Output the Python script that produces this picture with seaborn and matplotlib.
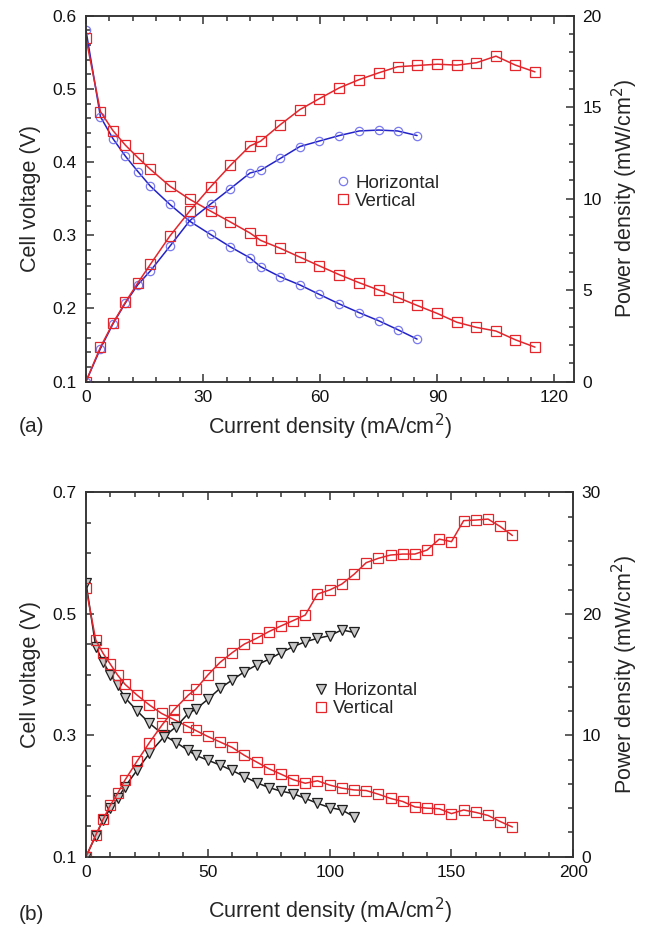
import matplotlib
matplotlib.use("Agg")
import matplotlib.pyplot as plt
from matplotlib.lines import Line2D
from matplotlib.ticker import MultipleLocator
import seaborn as sns

# panel (a) - horizontal
cur_a_h = [0, 3.7, 6.9, 10.1, 13.3, 16.5, 21.5, 26.6, 31.9, 37, 42, 44.7, 49.8, 54.8, 59.8, 64.9, 70, 75, 79.8, 84.8]
volt_a_h = [0.580, 0.462, 0.432, 0.408, 0.387, 0.367, 0.342, 0.319, 0.301, 0.284, 0.269, 0.257, 0.243, 0.232,
            0.219, 0.206, 0.194, 0.183, 0.171, 0.158]
pow_a_h = [0, 1.8, 3.15, 4.3, 5.3, 6.05, 7.4, 8.8, 9.7, 10.55, 11.4, 11.55, 12.2, 12.85, 13.15, 13.45, 13.7,
           13.75, 13.7, 13.45]

# panel (a) - vertical
cur_a_v = [0, 3.7, 6.9, 10.1, 13.3, 16.5, 21.5, 26.6, 31.9, 37, 42, 44.7, 49.8, 54.8, 59.8, 64.9, 70, 75, 79.8,
           84.8, 90, 95, 100, 105, 110, 115]
volt_a_v = [0.569, 0.469, 0.443, 0.423, 0.406, 0.390, 0.367, 0.349, 0.333, 0.318, 0.303, 0.293, 0.282, 0.270,
            0.258, 0.246, 0.235, 0.225, 0.215, 0.204, 0.193, 0.181, 0.174, 0.169, 0.157, 0.147]
pow_a_v = [0, 1.88, 3.19, 4.34, 5.40, 6.41, 7.96, 9.33, 10.64, 11.82, 12.88, 13.14, 14.05, 14.87, 15.47, 16.06,
           16.51, 16.88, 17.21, 17.28, 17.35, 17.30, 17.43, 17.79, 17.30, 16.93]

# panel (b) - horizontal
cur_b_h = [0, 4, 7, 10, 13, 16, 21, 26, 32, 37, 42, 45, 50, 55, 60, 65, 70, 75, 80, 85, 90, 95, 100, 105, 110]
volt_b_h = [0.551, 0.446, 0.421, 0.400, 0.382, 0.362, 0.340, 0.320, 0.300, 0.288, 0.275, 0.267, 0.259, 0.251,
            0.242, 0.232, 0.222, 0.214, 0.208, 0.204, 0.196, 0.188, 0.181, 0.177, 0.166]
pow_b_h = [0, 1.73, 3.02, 3.98, 4.80, 5.76, 7.14, 8.51, 9.88, 10.71, 11.80, 12.13, 12.96, 13.86, 14.55, 15.23,
           15.78, 16.25, 16.80, 17.29, 17.70, 17.98, 18.20, 18.67, 18.47]

# panel (b) - vertical
cur_b_v = [0, 4, 7, 10, 13, 16, 21, 26, 31, 36, 42, 45, 50, 55, 60, 65, 70, 75, 80, 85, 90, 95, 100, 105, 110,
           115, 120, 125, 130, 135, 140, 145, 150, 155, 160, 165, 170, 175]
volt_b_v = [0.542, 0.457, 0.435, 0.417, 0.399, 0.384, 0.366, 0.350, 0.336, 0.326, 0.314, 0.308, 0.298, 0.289,
            0.280, 0.267, 0.256, 0.245, 0.236, 0.227, 0.221, 0.225, 0.218, 0.213, 0.210, 0.209, 0.203, 0.196,
            0.191, 0.182, 0.180, 0.179, 0.171, 0.177, 0.173, 0.168, 0.158, 0.149]
pow_b_v = [0, 1.78, 3.07, 4.25, 5.22, 6.31, 7.88, 9.39, 10.79, 12.08, 13.31, 13.78, 14.96, 16.00, 16.80, 17.51,
           17.98, 18.53, 19.00, 19.44, 19.90, 21.63, 21.96, 22.45, 23.25, 24.21, 24.57, 24.84, 24.92, 24.92,
           25.25, 26.15, 25.94, 27.67, 27.72, 27.80, 27.19, 26.45]

series_labels = ["Horizontal", "Vertical"]

RED = "#e3262c"
BLUE_LINE = "#2323c8"
BLUE_MARK = "#7a7aee"
BLACK = "#1e1e1e"
GRAY_FILL = "#c8c8c8"

sns.set_style("ticks")
plt.rcParams["font.family"] = ["Liberation Sans", "DejaVu Sans"]
plt.rcParams["axes.edgecolor"] = "#333333"
plt.rcParams["axes.linewidth"] = 1.1
plt.rcParams["xtick.color"] = "#333333"
plt.rcParams["ytick.color"] = "#333333"
plt.rcParams["xtick.labelcolor"] = "#111111"
plt.rcParams["ytick.labelcolor"] = "#111111"

fig = plt.figure(figsize=(6.5, 9.26), dpi=100)
ax_a = fig.add_axes([0.1323, 0.588, 0.7508, 0.395])
ax_b = fig.add_axes([0.1323, 0.0748, 0.7497, 0.3935])


def curve(ax, x, y, line_color, marker, edge, face, size):
    sns.lineplot(x=x, y=y, ax=ax, color=line_color, linewidth=1.1, sort=False, estimator=None,
                 marker=marker, markersize=size, markerfacecolor=face, markeredgecolor=edge,
                 markeredgewidth=0.9, legend=False)


def style_axes(ax, tw, xlim, xmaj, xmin, ylim, ymaj, ymin, yoff, rlim, rmaj, rmin, xpad):
    ax.set_xlim(*xlim)
    ax.set_ylim(*ylim)
    tw.set_ylim(*rlim)
    ax.xaxis.set_major_locator(MultipleLocator(xmaj))
    ax.xaxis.set_minor_locator(MultipleLocator(xmin))
    ax.yaxis.set_major_locator(MultipleLocator(ymaj, offset=yoff))
    ax.yaxis.set_minor_locator(MultipleLocator(ymin))
    tw.yaxis.set_major_locator(MultipleLocator(rmaj))
    tw.yaxis.set_minor_locator(MultipleLocator(rmin))
    ax.tick_params(which="both", direction="in", top=True, right=False, labelsize=12.5)
    ax.tick_params(which="major", length=6, width=1.1)
    ax.tick_params(which="minor", length=3.5, width=1.1)
    ax.tick_params(axis="x", pad=6)
    ax.tick_params(axis="y", pad=7)
    tw.tick_params(which="both", direction="in", right=True, labelsize=12.5, pad=6)
    tw.tick_params(which="major", length=6, width=1.1)
    tw.tick_params(which="minor", length=3.5, width=1.1)
    ax.set_xlabel("Current density (mA/cm$^2$)", fontsize=15.5, labelpad=xpad)
    ax.set_ylabel("Cell voltage (V)", fontsize=15.5, labelpad=8)
    tw.set_ylabel("Power density (mW/cm$^2$)", fontsize=15.5, labelpad=6)
    for sp in tw.spines.values():
        sp.set_linewidth(1.1)
        sp.set_color("#333333")


def add_legend(ax, handles, anchor):
    ax.legend(handles=handles, labels=series_labels, loc="center left", bbox_to_anchor=anchor,
              frameon=False, fontsize=13.5, handlelength=0.6, handletextpad=0.35, borderpad=0,
              labelspacing=0.05, borderaxespad=0)


# panel (a)
tw_a = ax_a.twinx()
curve(ax_a, cur_a_h, volt_a_h, BLUE_LINE, "o", BLUE_MARK, "none", 6)
curve(tw_a, cur_a_h, pow_a_h, BLUE_LINE, "o", BLUE_MARK, "none", 6)
curve(ax_a, cur_a_v, volt_a_v, RED, "s", RED, "none", 6.5)
curve(tw_a, cur_a_v, pow_a_v, RED, "s", RED, "none", 6.5)
style_axes(ax_a, tw_a, (0, 125), 30, 6, (0.1, 0.6), 0.1, 0.02, 0.0, (0, 20), 5, 1, 5)
hand_a = [Line2D([], [], linestyle="none", marker="o", markersize=6, markerfacecolor="none",
                 markeredgecolor=BLUE_MARK, markeredgewidth=0.9),
          Line2D([], [], linestyle="none", marker="s", markersize=6.5, markerfacecolor="none",
                 markeredgecolor=RED, markeredgewidth=0.9)]
add_legend(tw_a, hand_a, (0.515, 0.518))

# panel (b)
tw_b = ax_b.twinx()
curve(ax_b, cur_b_h, volt_b_h, BLACK, "v", BLACK, GRAY_FILL, 6.5)
curve(tw_b, cur_b_h, pow_b_h, BLACK, "v", BLACK, GRAY_FILL, 6.5)
curve(ax_b, cur_b_v, volt_b_v, RED, "s", RED, "none", 6.5)
curve(tw_b, cur_b_v, pow_b_v, RED, "s", RED, "none", 6.5)
style_axes(ax_b, tw_b, (0, 200), 50, 10, (0.1, 0.7), 0.2, 0.05, 0.1, (0, 30), 10, 2, 11)
hand_b = [Line2D([], [], linestyle="none", marker="v", markersize=6.5, markerfacecolor=GRAY_FILL,
                 markeredgecolor=BLACK, markeredgewidth=0.9),
          Line2D([], [], linestyle="none", marker="s", markersize=6.5, markerfacecolor="none",
                 markeredgecolor=RED, markeredgewidth=0.9)]
add_legend(tw_b, hand_b, (0.471, 0.431))

fig.text(0.029, 0.539, "(a)", fontsize=15, va="center", ha="left")
fig.text(0.029, 0.012, "(b)", fontsize=15, va="center", ha="left")

fig.savefig("out.png", dpi=100)
